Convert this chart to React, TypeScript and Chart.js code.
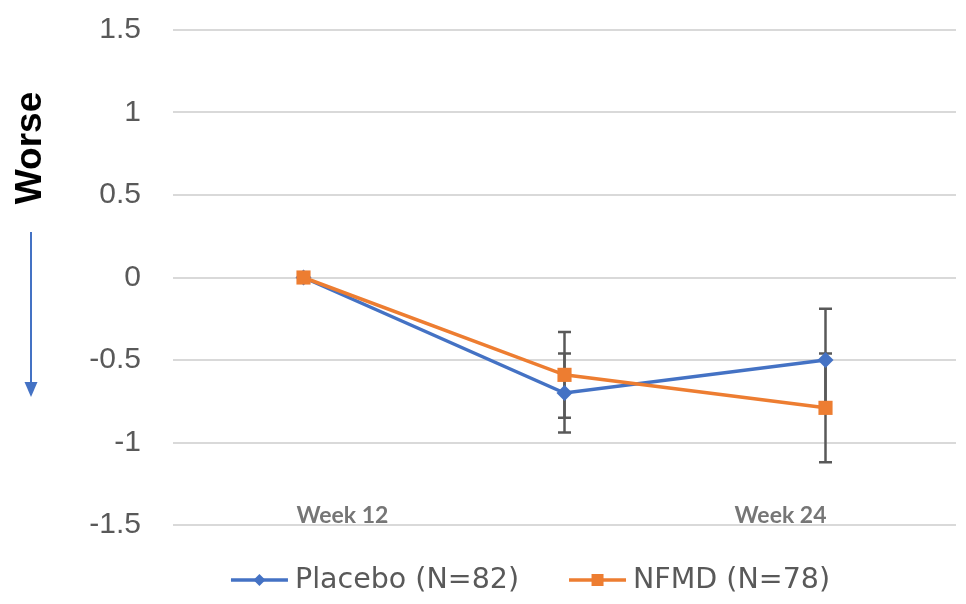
import React, { useEffect, useRef } from "react";
import { Chart, registerables } from "chart.js";

Chart.register(...registerables);

const categories = ["Week 12", "", "Week 24"];
const placeboValues = [0, -0.7, -0.5];
const placeboErrors = [0, 0.24, 0.31];
const nfmdValues = [0, -0.59, -0.79];
const nfmdErrors = [0, 0.26, 0.33];
const yTicks = [1.5, 1, 0.5, 0, -0.5, -1, -1.5];
const seriesNames = ["Placebo (N=82)", "NFMD (N=78)"];
const sideLabel = "Worse";

const BLUE = "#4472C4";
const ORANGE = "#ED7D31";
const GRAY = "#595959";

const errorBarPlugin = {
  id: "errorBars",
  beforeDatasetsDraw(chart: any) {
    const ctx = chart.ctx;
    const yScale = chart.scales.y;
    ctx.save();
    ctx.strokeStyle = GRAY;
    ctx.lineWidth = 2.5;
    chart.data.datasets.forEach((ds: any, di: number) => {
      const meta = chart.getDatasetMeta(di);
      const errs: number[] = ds.errors || [];
      meta.data.forEach((pt: any, i: number) => {
        const e = errs[i];
        if (!e) return;
        const v = ds.data[i];
        const yTop = yScale.getPixelForValue(v + e);
        const yBot = yScale.getPixelForValue(v - e);
        const x = pt.x;
        ctx.beginPath();
        ctx.moveTo(x, yTop);
        ctx.lineTo(x, yBot);
        ctx.moveTo(x - 6.5, yTop);
        ctx.lineTo(x + 6.5, yTop);
        ctx.moveTo(x - 6.5, yBot);
        ctx.lineTo(x + 6.5, yBot);
        ctx.stroke();
      });
    });
    ctx.restore();
  },
};

const decorPlugin = {
  id: "decor",
  afterDraw(chart: any) {
    const ctx = chart.ctx;
    const xScale = chart.scales.x;
    const yScale = chart.scales.y;
    ctx.save();
    // category labels inside the plot, above the bottom grid line
    ctx.font = 'bold 23px Lato, "Liberation Sans", sans-serif';
    ctx.fillStyle = "#767676";
    ctx.textBaseline = "alphabetic";
    const n = categories.length;
    categories.forEach((c, i) => {
      if (!c) return;
      const px = xScale.getPixelForValue(i);
      if (i === 0) {
        ctx.textAlign = "left";
        ctx.fillText(c, px - 7, yScale.bottom - 2);
      } else if (i === n - 1) {
        ctx.textAlign = "right";
        ctx.fillText(c, px + 1, yScale.bottom - 2);
      } else {
        ctx.textAlign = "center";
        ctx.fillText(c, px, yScale.bottom - 2);
      }
    });

    // rotated side label
    ctx.save();
    ctx.translate(31, 148);
    ctx.rotate(-Math.PI / 2);
    ctx.font = 'bold 37px "Liberation Sans", Arial, sans-serif';
    ctx.fillStyle = "#000000";
    ctx.textAlign = "center";
    ctx.textBaseline = "middle";
    ctx.fillText(sideLabel, 0, 0);
    ctx.restore();

    // arrow
    ctx.strokeStyle = BLUE;
    ctx.fillStyle = BLUE;
    ctx.lineWidth = 2;
    ctx.beginPath();
    ctx.moveTo(31, 232);
    ctx.lineTo(31, 384);
    ctx.stroke();
    ctx.beginPath();
    ctx.moveTo(24.5, 382);
    ctx.lineTo(37.5, 382);
    ctx.lineTo(31, 397);
    ctx.closePath();
    ctx.fill();

    // legend
    ctx.font = '28.5px "DejaVu Sans", sans-serif';
    ctx.textAlign = "left";
    ctx.textBaseline = "middle";
    const lineLen = 57;
    const gapText = 7;
    const gapItem = 50;
    const widths = seriesNames.map((s) => ctx.measureText(s).width);
    const total =
      widths.reduce((a, b) => a + b, 0) + seriesNames.length * (lineLen + gapText) + gapItem * (seriesNames.length - 1);
    let x = 530.5 - total / 2;
    const ly = 580;
    const colors = [BLUE, ORANGE];
    seriesNames.forEach((s, i) => {
      ctx.strokeStyle = colors[i];
      ctx.fillStyle = colors[i];
      ctx.lineWidth = 3.5;
      ctx.beginPath();
      ctx.moveTo(x, ly);
      ctx.lineTo(x + lineLen, ly);
      ctx.stroke();
      const cx = x + lineLen / 2;
      ctx.beginPath();
      if (i === 0) {
        ctx.moveTo(cx, ly - 6);
        ctx.lineTo(cx + 6, ly);
        ctx.lineTo(cx, ly + 6);
        ctx.lineTo(cx - 6, ly);
        ctx.closePath();
      } else {
        ctx.rect(cx - 6, ly - 6, 12, 12);
      }
      ctx.fill();
      ctx.fillStyle = GRAY;
      ctx.fillText(s, x + lineLen + gapText, ly + 1);
      x += lineLen + gapText + widths[i] + gapItem;
    });
    ctx.restore();
  },
};

export default function App() {
  const canvasRef = useRef<HTMLCanvasElement | null>(null);

  useEffect(() => {
    document.body.style.margin = "0";
    const canvas = canvasRef.current;
    if (!canvas) return;
    const chart = new Chart(canvas, {
      type: "line",
      data: {
        labels: categories,
        datasets: [
          {
            label: seriesNames[0],
            data: placeboValues,
            errors: placeboErrors,
            borderColor: BLUE,
            backgroundColor: BLUE,
            borderWidth: 3.5,
            pointStyle: "rectRot",
            pointRadius: 8,
            pointBorderWidth: 0,
            tension: 0,
            order: 1,
          } as any,
          {
            label: seriesNames[1],
            data: nfmdValues,
            errors: nfmdErrors,
            borderColor: ORANGE,
            backgroundColor: ORANGE,
            borderWidth: 3.5,
            pointStyle: "rect",
            pointRadius: 10,
            pointBorderWidth: 0,
            tension: 0,
            order: 0,
          } as any,
        ],
      },
      options: {
        responsive: false,
        animation: false,
        devicePixelRatio: 1,
        layout: { padding: { top: 30, right: 8, bottom: 79, left: 0 } },
        plugins: {
          legend: { display: false },
          tooltip: { enabled: false },
        },
        scales: {
          x: {
            type: "category",
            offset: true,
            display: false,
            grid: { display: false },
          },
          y: {
            min: -1.5,
            max: 1.5,
            afterFit: (scale: any) => {
              scale.width = 173;
            },
            afterBuildTicks: (scale: any) => {
              scale.ticks = yTicks.map((v) => ({ value: v }));
            },
            border: { display: false },
            grid: {
              color: "#d9d9d9",
              lineWidth: 2,
              drawTicks: true,
              tickLength: 32,
              tickColor: "rgba(0,0,0,0)",
            },
            ticks: {
              padding: 0,
              color: GRAY,
              font: { family: '"Liberation Sans", Arial, sans-serif', size: 30 },
              callback: (v: any) => String(v),
            },
          },
        },
      },
      plugins: [errorBarPlugin, decorPlugin],
    } as any);
    return () => chart.destroy();
  }, []);

  return (
    <div style={{ width: 966, height: 604 }}>
      <canvas ref={canvasRef} width={966} height={604} style={{ display: "block" }} />
    </div>
  );
}
